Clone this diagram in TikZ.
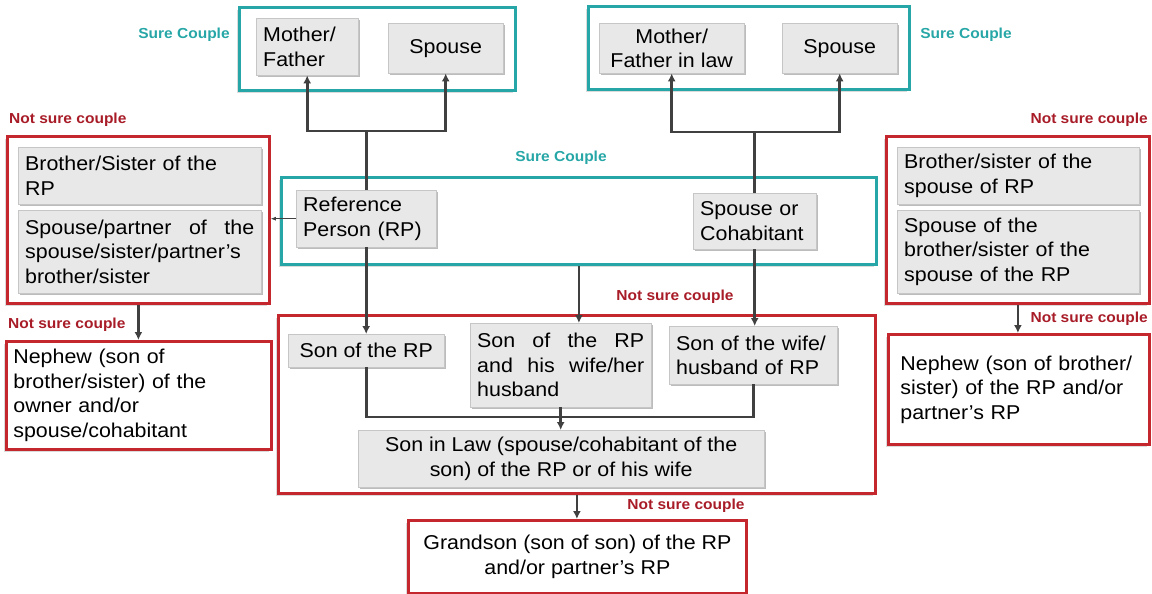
\documentclass[tikz,border=0pt]{standalone}
\usepackage{fontspec}
\setmainfont{Liberation Sans}[FakeStretch=1.07]
\usepackage{xcolor}
\usepackage{tikz}
\usetikzlibrary{arrows.meta,positioning,shadows}

\definecolor{surecol}{RGB}{38,166,166}
\definecolor{notsurecol}{RGB}{196,40,46}
\definecolor{notsurelbl}{RGB}{168,28,40}
\definecolor{linecol}{RGB}{64,64,64}

\begin{document}
\begin{tikzpicture}[
    x=1pt, y=-1pt,
    gbox/.style={draw=gray!45, fill=gray!18, anchor=north west, inner xsep=7pt, inner ysep=2pt,
      font=\fontsize{20}{24.5}\selectfont, align=left,
      drop shadow={shadow xshift=1.8pt, shadow yshift=-1.8pt, fill=gray!65, opacity=.8}},
    grp/.style={draw=#1, line width=2.8pt, anchor=north west, inner xsep=7pt, inner ysep=0pt,
      fill=white, font=\fontsize{20}{24.5}\selectfont, align=left,
      drop shadow={shadow xshift=-2.5pt, shadow yshift=-2.5pt, fill=gray!35, opacity=.8}},
    lbl/.style={font=\fontsize{14.5}{16}\selectfont\bfseries, text=#1, inner sep=0pt},
    arr/.style={-{Latex[length=8pt,width=8pt]}, draw=linecol, line width=2.6pt},
    conn/.style={draw=linecol, line width=2.6pt}
  ]
    \useasboundingbox (0,0) rectangle (1152,594);

    \node[grp=surecol, minimum width=276, minimum height=83] (tlframe) at (238,6) {};
    \node[grp=surecol, minimum width=321, minimum height=83] (trframe) at (587,5) {};
    \node[grp=surecol, minimum width=595, minimum height=87] (midframe) at (280,176) {};
    \node[grp=notsurecol, minimum width=262, minimum height=167] (lframe) at (6,135) {};
    \node[grp=notsurecol, minimum width=263, minimum height=167] (rframe) at (885,135) {};
    \node[grp=notsurecol, minimum width=597, minimum height=178] (sonframe) at (277,314) {};

    \node[lbl=surecol] (surel) at (184,35) {Sure Couple};
    \node[lbl=surecol] (surer) at (966,35) {Sure Couple};
    \node[lbl=surecol] (surem) at (561,158) {Sure Couple};
    \node[lbl=notsurelbl, anchor=west] (nsl) at (9,120) {Not sure couple};
    \node[lbl=notsurelbl, anchor=east] (nsr) at (1148,120) {Not sure couple};
    \node[lbl=notsurelbl, anchor=west] (nsnl) at (8,325) {Not sure couple};
    \node[lbl=notsurelbl, anchor=east] (nsnr) at (1148,319) {Not sure couple};
    \node[lbl=notsurelbl] (nsson) at (675,297) {Not sure couple};
    \node[lbl=notsurelbl] (nsgrand) at (686,506) {Not sure couple};

    \node[gbox, minimum width=102, minimum height=57, text width=88] (mother) at (256,18) {Mother/\\Father};
    \node[gbox, minimum width=115, minimum height=50, align=center] (spouseA) at (388,23) {Spouse};
    \node[gbox, minimum width=145, minimum height=50, align=center] (inlaws) at (599,23) {Mother/\\Father in law};
    \node[gbox, minimum width=115, minimum height=50, align=center] (spouseB) at (782,23) {Spouse};

    \node[gbox, minimum width=140, minimum height=57, text width=126] (rp) at (296,190) {Reference\\Person (RP)};
    \node[gbox, minimum width=123, minimum height=56, text width=109] (cohab) at (693,193) {Spouse or\\Cohabitant};

    \node[gbox, minimum width=243, minimum height=57, text width=229] (sibl) at (18,147) {Brother/Sister of the\\RP};
    \node[gbox, minimum width=243, minimum height=83, text width=229] (sibspl) at (18,210) {Spouse/partner\hfill of\hfill the\\spouse/sister/partner’s\\brother/sister};
    \node[gbox, minimum width=242, minimum height=57, text width=228] (sibr) at (897,147) {Brother/sister of the\\spouse of RP};
    \node[gbox, minimum width=242, minimum height=83, text width=228] (sibspr) at (897,210) {Spouse of the\\brother/sister of the\\spouse of the RP};

    \node[grp=notsurecol, minimum width=265, minimum height=108, text width=251] (nephl) at (5,340) {Nephew (son of\\brother/sister) of the\\owner and/or\\spouse/cohabitant};
    \node[grp=notsurecol, minimum width=261, minimum height=110, inner xsep=12pt, text width=237] (nephr) at (887,333) {Nephew (son of brother/\\sister) of the RP and/or\\partner’s RP};

    \node[gbox, minimum width=156, minimum height=33, align=center] (sonrp) at (288,334) {Son of the RP};
    \node[gbox, minimum width=181, minimum height=84, text width=167] (sonboth) at (470,323) {Son\hfill of\hfill the\hfill RP\\and\hfill his\hfill wife/her\\husband};
    \node[gbox, minimum width=168, minimum height=58, text width=154] (sonwife) at (669,326) {Son of the wife/\\husband of RP};
    \node[gbox, minimum width=406, minimum height=57, align=center] (soninlaw) at (358,430) {Son in Law (spouse/cohabitant of the\\son) of the RP or of his wife};

    \node[grp=notsurecol, minimum width=338, minimum height=73, align=center] (grand) at (407,519) {Grandson (son of son) of the RP\\and/or partner’s RP};

    \coordinate (hubL) at (rp.north |- 0,131);
    \coordinate (hubR) at (cohab.north |- 0,132);
    \coordinate (jn) at (0,417);

    \draw[conn] (rp.north) -- (hubL);
    \draw[arr] (hubL) -| (mother.south);
    \draw[arr] (hubL) -| (spouseA.south);
    \draw[conn] (cohab.north) -- (hubR);
    \draw[arr] (hubR) -| (inlaws.south);
    \draw[arr] (hubR) -| (spouseB.south);

    \draw[-{Latex[length=5pt,width=4pt]}, draw=linecol, line width=0.8pt] (rp.west) -- (lframe.east |- rp.west);
    \draw[arr] (rp.south) -- (rp.south |- sonrp.north);
    \draw[arr] (midframe.south) -- (midframe.south |- sonboth.north);
    \draw[arr] (cohab.south) -- (cohab.south |- sonwife.north);
    \draw[conn] (sonrp.south) |- (sonwife.south |- jn) -- (sonwife.south);
    \draw[arr] (sonboth.south) -- (sonboth.south |- soninlaw.north);
    \draw[arr] (sonframe.south) -- (sonframe.south |- grand.north);
    \draw[arr] (lframe.south) -- (lframe.south |- nephl.north);
    \draw[arr] (rframe.south) -- (rframe.south |- nephr.north);
  \end{tikzpicture}
\end{document}
